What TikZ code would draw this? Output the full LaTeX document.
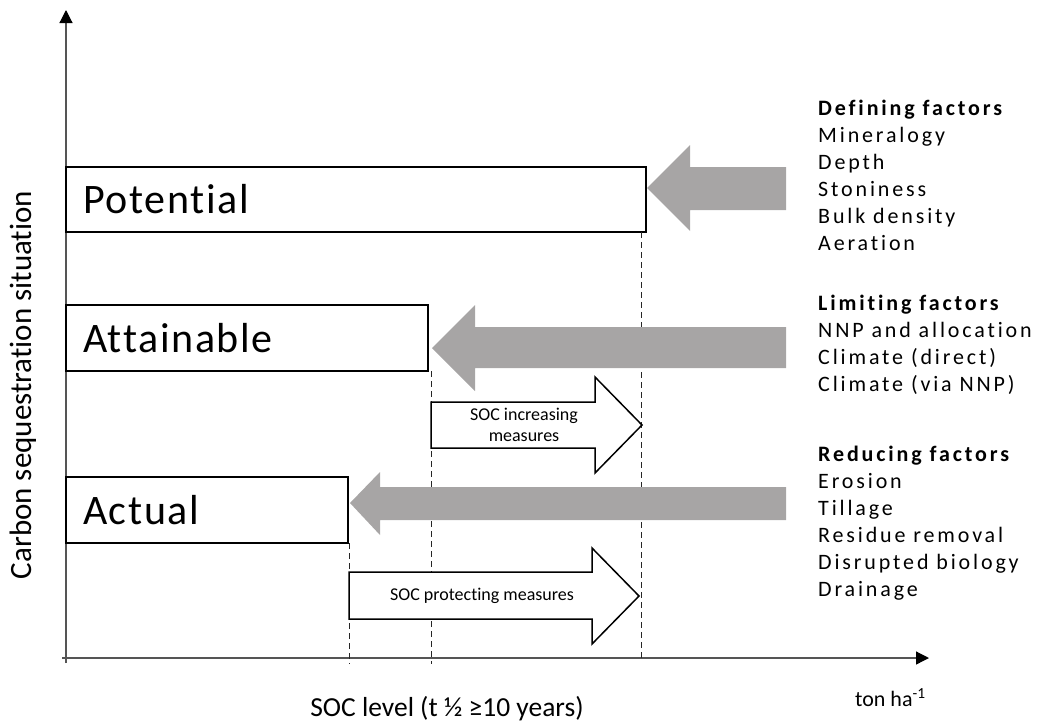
\documentclass[tikz,border=0pt]{standalone}
\usepackage{fontspec}
\setmainfont{Carlito}[Ligatures=NoCommon]
\newfontfamily\factorfont{Carlito}[LetterSpace=13,Ligatures=NoCommon]
\newfontfamily\levelfont{Carlito}[LetterSpace=4,Ligatures=NoCommon]
\usetikzlibrary{arrows.meta}
\definecolor{factorgray}{RGB}{167,165,165}
\definecolor{axisgray}{RGB}{85,85,85}
\tikzset{
  situation/.style={draw, line width=1.5pt, anchor=north west, inner xsep=17pt,
    inner ysep=0pt, outer sep=0pt, align=left, font=\levelfont\fontsize{42}{50}\selectfont},
  factor/.style={fill=factorgray},
  measure/.style={draw, line width=1.5pt, fill=white, line join=miter},
  measuretext/.style={align=center, inner sep=0pt, font=\fontsize{18}{21}\selectfont},
  factors/.style={anchor=base west, align=left, inner sep=0pt, font=\factorfont\fontsize{22}{27}\selectfont},
  axis/.style={axisgray, line width=1.2pt, -{Triangle[length=13pt,width=13pt,color=black]}},
  guide/.style={dash pattern=on 6pt off 4pt, line width=0.8pt, black!85}
}
\begin{document}
\begin{tikzpicture}[x=1pt,y=-1pt]
  \useasboundingbox (0,0) rectangle (1039,724);
  %%%%%%%%%%%%%axes%%%%%%%%%%%%%%%%%%%%%%
  \coordinate (origin) at (66,658);
  \draw[axis] (66,663) -- (66,10);
  \draw[axis] (62,658) -- (929,658);
  \node[rotate=90, font=\fontsize{31}{37}\selectfont] (ylabel) at (23,385) {Carbon sequestration situation};
  \node[anchor=base, font=\fontsize{27.5}{32}\selectfont] (xlabel) at (447,716) {SOC level (t ½ ≥10 years)};
  \node[anchor=base west, inner sep=0pt, font=\fontsize{22}{26}\selectfont] (unit) at (855,706) {ton ha\textsuperscript{-1}};

  %%%%%%%%%%%%%situations%%%%%%%%%%%%%%%%%%%%%%
  \node[situation, text width=546pt, minimum height=65pt] (pot) at (66,167) {Potential};
  \node[situation, text width=328pt, minimum height=66pt] (att) at (66,305) {Attainable};
  \node[situation, text width=248pt, minimum height=66pt] (act) at (66,477) {Actual};

  %%%%%%%%%%%%%levels%%%%%%%%%%%%%%%%%%%%%%
  \coordinate (actlvl) at (349,658);
  \coordinate (attlvl) at (431,658);
  \coordinate (potlvl) at (641,658);
  \draw[guide] (actlvl |- act.south) -- ([yshift=-6pt]actlvl);
  \draw[guide] (attlvl |- att.south) -- ([yshift=-6pt]attlvl);
  \draw[guide] (potlvl |- pot.south) -- (potlvl);

  %%%%%%%%%%%%%factor arrows%%%%%%%%%%%%%%%%%%%%%%
  \fill[factor] (647,188) -- (690,145) -- (690,167) -- (786,167) -- (786,210) -- (690,210) -- (690,231) -- cycle;
  \fill[factor] (432,348) -- (475,305) -- (475,327) -- (786,327) -- (786,368) -- (475,368) -- (475,391) -- cycle;
  \fill[factor] (350,503) -- (380,472) -- (380,487) -- (786,487) -- (786,520) -- (380,520) -- (380,535) -- cycle;

  %%%%%%%%%%%%%measures%%%%%%%%%%%%%%%%%%%%%%
  \draw[measure] (431,402) -- (595,402) -- (595,377) -- (642,425) -- (595,473) -- (595,448) -- (431,448) -- cycle;
  \node[measuretext] (incr) at (524,425) {SOC increasing\\measures};
  \draw[measure] (349,572) -- (592,572) -- (592,548) -- (639,596) -- (592,644) -- (592,619) -- (349,619) -- cycle;
  \node[measuretext] (prot) at (482,596) {SOC protecting measures};

  %%%%%%%%%%%%%factors (anchored at last line)%%%%%%%%%%%%%%%%%%%%%%
  \node[factors] (deffac) at (818,250) {\textbf{Defining factors}\\Mineralogy\\Depth\\Stoniness\\Bulk density\\Aeration};
  \node[factors] (limfac) at (818,391) {\textbf{Limiting factors}\\NNP and allocation\\Climate (direct)\\Climate (via NNP)};
  \node[factors] (redfac) at (818,596) {\textbf{Reducing factors}\\Erosion\\Tillage\\Residue removal\\Disrupted biology\\Drainage};
\end{tikzpicture}
\end{document}
